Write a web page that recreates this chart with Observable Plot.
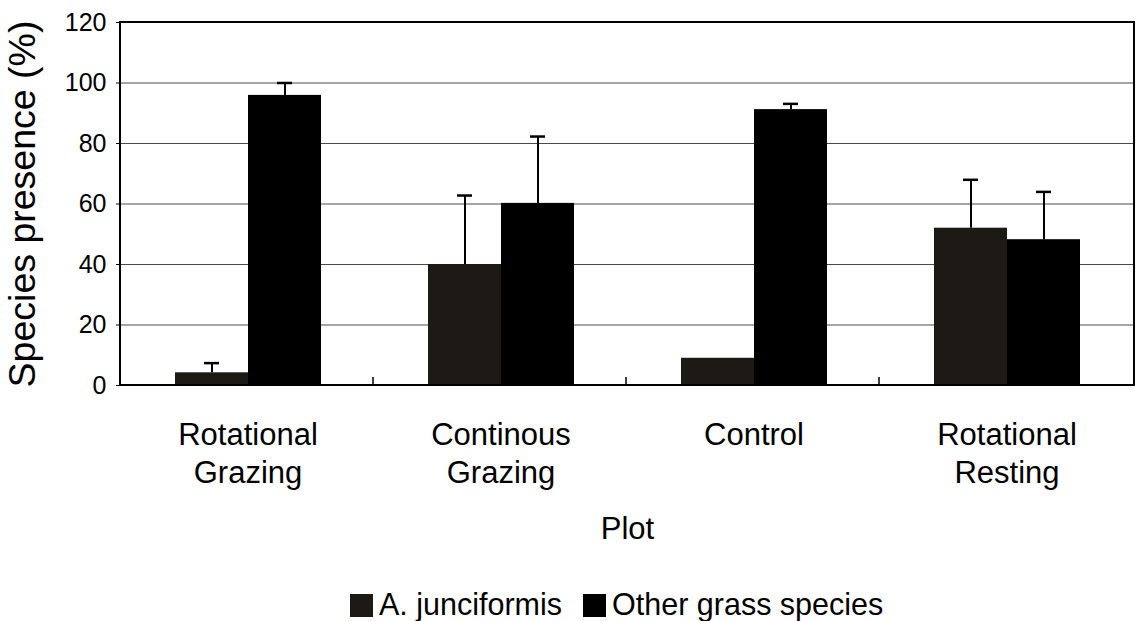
<!DOCTYPE html>
<html>
<head>
<meta charset="utf-8">
<script src="https://cdn.jsdelivr.net/npm/d3@7"></script>
<script src="https://cdn.jsdelivr.net/npm/@observablehq/plot@0.6"></script>
<style>
  html, body { margin: 0; padding: 0; background: #fff; }
  body { font-family: "Liberation Sans", Arial, sans-serif; width: 1138px; }
  #legend { height: 46px; box-sizing: border-box; padding-top: 13px; padding-left: 350px;
            font-size: 30.5px; line-height: 32px; color: #000; white-space: nowrap; }
  #legend .sw { display: inline-block; width: 23px; height: 23px; vertical-align: -2px; margin-right: 6px; }
  #legend .item { margin-right: 21px; }
</style>
</head>
<body>
<div id="chart"></div>
<div id="legend"></div>
<script>
// ---- data ----
const categories = ["Rotational\nGrazing", "Continous\nGrazing", "Control", "Rotational\nResting"];
const series = ["A. junciformis", "Other grass species"];
const juncValues = [4.2, 40, 9, 52];
const juncErrTop = [7.4, 62.8, null, 68];
const otherValues = [95.9, 60.2, 91.2, 48.2];
const otherErrTop = [100, 82.3, 93.1, 64];
const seriesColors = ["#1d1914", "#000000"];
const yTicks = [0, 20, 40, 60, 80, 100, 120];

const rows = [];
categories.forEach((c, i) => {
  rows.push({cat: c, series: series[0], value: juncValues[i], err: juncErrTop[i]});
  rows.push({cat: c, series: series[1], value: otherValues[i], err: otherErrTop[i]});
});
const errRows = rows.filter(d => d.err != null);

const font = '"Liberation Sans", Arial, sans-serif';

const plot = Plot.plot({
  width: 1138,
  height: 575,
  marginLeft: 120,
  marginRight: 4,
  marginTop: 22,
  marginBottom: 190,
  style: {fontFamily: font, fontSize: "25px", color: "#000", background: "#fff", overflow: "visible"},
  fx: {domain: categories, padding: 0},
  x: {domain: series, paddingInner: 0, paddingOuter: 0.72, axis: null},
  y: {domain: [0, 120]},
  color: {domain: series, range: seriesColors},
  marks: [
    Plot.gridY(yTicks.slice(1, -1), {stroke: "#4a4a4a", strokeOpacity: 1, strokeWidth: 1}),
    Plot.barY(rows, {fx: "cat", x: "series", y: "value", fill: "series"}),
    Plot.ruleX(errRows, {fx: "cat", x: "series", y1: "value", y2: "err", stroke: "#000", strokeWidth: 2}),
    Plot.tickY(errRows, {fx: "cat", x: "series", y: "err", stroke: "#000", strokeWidth: 2.5, insetLeft: 29, insetRight: 29}),
    Plot.axisY({ticks: yTicks, tickSize: 5, tickPadding: 10, fontSize: 25,
                label: "Species presence (%)", labelAnchor: "center", labelOffset: 113, labelArrow: "none"}),
    Plot.axisFx({anchor: "bottom", tickSize: 0, tickPadding: 33, fontSize: 31, lineHeight: 1.22,
                 label: "Plot", labelAnchor: "center", labelOffset: 153, labelArrow: "none"})
  ]
});

document.getElementById("chart").appendChild(plot);

// label sizes and plot frame / category boundary ticks from the library's scales
const svg = d3.select(plot);
svg.selectAll("text").filter(function() { return this.textContent === "Species presence (%)"; })
  .attr("font-size", 37.5);
svg.selectAll("text").filter(function() { return this.textContent === "Plot"; })
  .attr("font-size", 31);

const fxs = plot.scale("fx");
const ys = plot.scale("y");
const xL = fxs.range[0], xR = fxs.range[1];
const yB = ys.apply(0), yT = ys.apply(120);
const frame = svg.append("g").attr("fill", "none").attr("stroke", "#000");
frame.append("rect").attr("x", xL).attr("y", yT).attr("width", xR - xL).attr("height", yB - yT).attr("stroke-width", 2);
categories.slice(1).forEach((c, i) => {
  const bx = xL + (i + 1) * fxs.step;
  frame.append("line").attr("x1", bx).attr("x2", bx).attr("y1", yB).attr("y2", yB - 8).attr("stroke-width", 1.5);
});

// legend
const legend = d3.select("#legend");
series.forEach((s, i) => {
  const item = legend.append("span").attr("class", "item");
  item.append("span").attr("class", "sw").style("background", seriesColors[i]);
  item.append("span").text(s);
});
</script>
</body>
</html>
